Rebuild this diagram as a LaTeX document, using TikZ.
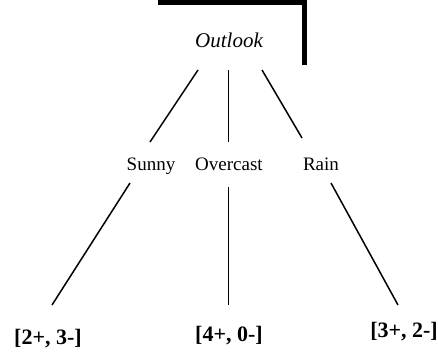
\documentclass[tikz,border=0pt]{standalone}
\usepackage{fontspec}
\setmainfont{Liberation Serif}
\begin{document}
\begin{tikzpicture}[x=1pt,y=-1pt,
  lbl/.style={anchor=base,inner sep=0pt,font=\fontsize{19}{22}\selectfont},
  root/.style={anchor=base,inner sep=0pt,font=\fontsize{21}{24}\selectfont\itshape},
  leaf/.style={anchor=base,inner sep=0pt,font=\fontsize{22}{26}\selectfont\bfseries},
  edge/.style={line width=1.5pt},
  frame/.style={line width=5.2pt,line join=miter}]
\useasboundingbox (0,0) rectangle (438,356);
\draw[frame] (158,2.6) -- (304.2,2.6) -- (304.2,65);
\node[root] (outlook) at (229,47) {Outlook};
\node[lbl] (sunny) at (151,170) {Sunny};
\node[lbl] (overcast) at (229,170) {Overcast};
\node[lbl] (rain) at (321,170) {Rain};
\node[leaf] (l1) at (48,344) {[2+, 3-]};
\node[leaf] (l2) at (229,341) {[4+, 0-]};
\node[leaf] (l3) at (404,337) {[3+, 2-]};
\coordinate (o1) at (198,70);
\coordinate (o2) at (228.5,70);
\coordinate (o3) at (262,70);
\coordinate (s1) at (150,142);
\coordinate (v1) at (228.5,142);
\coordinate (r1) at (302,138);
\coordinate (s2) at (130,183);
\coordinate (v2) at (228.5,187);
\coordinate (r2) at (331,183);
\coordinate (a1) at (52,305);
\coordinate (a2) at (228.5,305);
\coordinate (a3) at (398,305);
\draw[edge] (o1) -- (s1);
\draw[edge] (o2) -- (v1);
\draw[edge] (o3) -- (r1);
\draw[edge] (s2) -- (a1);
\draw[edge] (v2) -- (a2);
\draw[edge] (r2) -- (a3);
\end{tikzpicture}
\end{document}
